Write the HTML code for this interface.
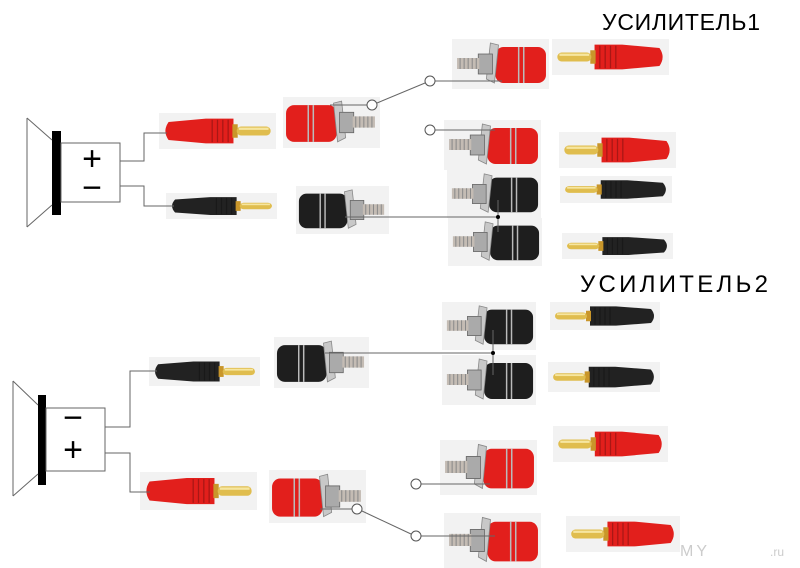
<!DOCTYPE html>
<html><head><meta charset="utf-8"><style>html,body{margin:0;padding:0;background:#fff}svg{display:block}</style></head>
<body>
<svg width="800" height="568" viewBox="0 0 800 568" xmlns="http://www.w3.org/2000/svg" font-family="Liberation Sans, sans-serif">
<defs>
<symbol id="plug" viewBox="0 0 110 32" preserveAspectRatio="none">
  <rect width="110" height="32" fill="#f2f2f2"/>
  <path d="M9,8 Q3,16 9,24 L44,27 L70,27 L70,5 L44,5 Z" fill="currentColor"/>
  <path d="M50,6 v20 M55,6 v20 M60,6 v20 M65,6 v20" stroke="#000" stroke-opacity=".25" stroke-width="1.2"/>
  <rect x="69" y="10" width="5" height="12" fill="#c9962a"/>
  <rect x="73" y="12" width="32" height="8" rx="4" fill="#e0bd4e"/>
  <rect x="75" y="13" width="28" height="2" fill="#f6e6a0"/>
</symbol>
<symbol id="post" viewBox="0 0 96 50" preserveAspectRatio="none">
  <rect width="96" height="50" fill="#f2f2f2"/>
  <rect x="3" y="8" width="50" height="36" rx="8" fill="currentColor"/>
  <path d="M25,8 v36 M30,8 v36" stroke="#bbb" stroke-width="1.5"/>
  <path d="M50,6 L58,4 L62,40 L54,44 Z" fill="#c8c8c8" stroke="#888" stroke-width="0.8"/>
  <rect x="56" y="15" width="14" height="20" fill="#aaa" stroke="#666" stroke-width="0.8"/>
  <rect x="69" y="19" width="22" height="11" fill="#c4bcb4"/>
  <path d="M72,19 v11 M76,19 v11 M80,19 v11 M84,19 v11 M88,19 v11" stroke="#888" stroke-width="1"/>
</symbol>
</defs>

<text x="602" y="30" font-size="23" textLength="158">УСИЛИТЕЛЬ1</text>
<text x="580" y="292" font-size="24" textLength="188">УСИЛИТЕЛЬ2</text>

<rect x="52" y="131" width="9" height="84" fill="#000"/>
<rect x="38" y="395" width="8" height="90" fill="#000"/>

<!-- plugs tip right -->
<use href="#plug" x="159" y="113" width="117" height="36" color="#e21f1c"/>
<use href="#plug" x="166" y="193" width="111" height="26" color="#222"/>
<use href="#plug" x="149" y="357" width="111" height="29" color="#222"/>
<use href="#plug" x="140" y="472" width="117" height="38" color="#e21f1c"/>
<!-- posts cap left -->
<use href="#post" x="283" y="97" width="97" height="51" color="#e21f1c"/>
<use href="#post" x="296" y="186" width="93" height="48" color="#1e1e1e"/>
<use href="#post" x="274" y="337" width="95" height="51" color="#1e1e1e"/>
<use href="#post" x="269" y="470" width="97" height="53" color="#e21f1c"/>

<g transform="translate(549,39) scale(-1,1)"><use href="#post" width="97" height="50" color="#e21f1c"/></g>
<g transform="translate(541,120) scale(-1,1)"><use href="#post" width="97" height="50" color="#e21f1c"/></g>
<g transform="translate(541,170) scale(-1,1)"><use href="#post" width="94" height="48" color="#1e1e1e"/></g>
<g transform="translate(542,218) scale(-1,1)"><use href="#post" width="94" height="48" color="#1e1e1e"/></g>
<g transform="translate(536,302) scale(-1,1)"><use href="#post" width="94" height="48" color="#1e1e1e"/></g>
<g transform="translate(536,355) scale(-1,1)"><use href="#post" width="94" height="50" color="#1e1e1e"/></g>
<g transform="translate(537,440) scale(-1,1)"><use href="#post" width="97" height="55" color="#e21f1c"/></g>
<g transform="translate(541,513) scale(-1,1)"><use href="#post" width="97" height="55" color="#e21f1c"/></g>

<g transform="translate(669,39) scale(-1,1)"><use href="#plug" width="117" height="36" color="#e21f1c"/></g>
<g transform="translate(676,132) scale(-1,1)"><use href="#plug" width="117" height="36" color="#e21f1c"/></g>
<g transform="translate(672,176) scale(-1,1)"><use href="#plug" width="112" height="27" color="#222"/></g>
<g transform="translate(673,233) scale(-1,1)"><use href="#plug" width="111" height="26" color="#222"/></g>
<g transform="translate(660,302) scale(-1,1)"><use href="#plug" width="110" height="28" color="#222"/></g>
<g transform="translate(660,362) scale(-1,1)"><use href="#plug" width="112" height="30" color="#222"/></g>
<g transform="translate(668,426) scale(-1,1)"><use href="#plug" width="115" height="36" color="#e21f1c"/></g>
<g transform="translate(680,516) scale(-1,1)"><use href="#plug" width="114" height="36" color="#e21f1c"/></g>

<g fill="none" stroke="#666" stroke-width="1">
<path d="M27,118 V227 M27,118 L52,140 M27,227 L52,205"/>
<rect x="61" y="143" width="59" height="59"/>
<path d="M120,161 H144 V133 H167 M120,186 H144 V206 H174"/>
<path d="M13,381 V496 M13,381 L38,405 M13,496 L38,474"/>
<rect x="46" y="408" width="59" height="63"/>
<path d="M105,427 H130 V371 H157 M105,453 H130 V492 H150"/>
<path d="M330,105 H367 M377,103 L425,83 M435,81 H502"/>
<path d="M435,130 H495"/>
<path d="M345,217 H498 M498,200 V232"/>
<path d="M325,353 H493 M493,330 V375"/>
<path d="M421,484 H490"/>
<path d="M320,509 H352 M362,511 L411,534 M421,536 H495"/>
</g>
<g fill="#fff" stroke="#555" stroke-width="1">
<circle cx="372" cy="105" r="5"/><circle cx="430" cy="81" r="5"/><circle cx="430" cy="130" r="5"/>
<circle cx="416" cy="484" r="5"/><circle cx="357" cy="509" r="5"/><circle cx="416" cy="536" r="5"/>
</g>
<circle cx="498" cy="217" r="2" fill="#000"/>
<circle cx="493" cy="353" r="2" fill="#000"/>

<g font-size="34" text-anchor="middle" fill="#000">
<text x="92" y="170">+</text><text x="92" y="199">−</text>
<text x="73" y="429">−</text><text x="73" y="461">+</text>
</g>

<text x="680" y="556" font-size="16" fill="#ccc" letter-spacing="3">MY</text>
<text x="770" y="556" font-size="12" fill="#ccc">.ru</text>
</svg>
</body></html>
